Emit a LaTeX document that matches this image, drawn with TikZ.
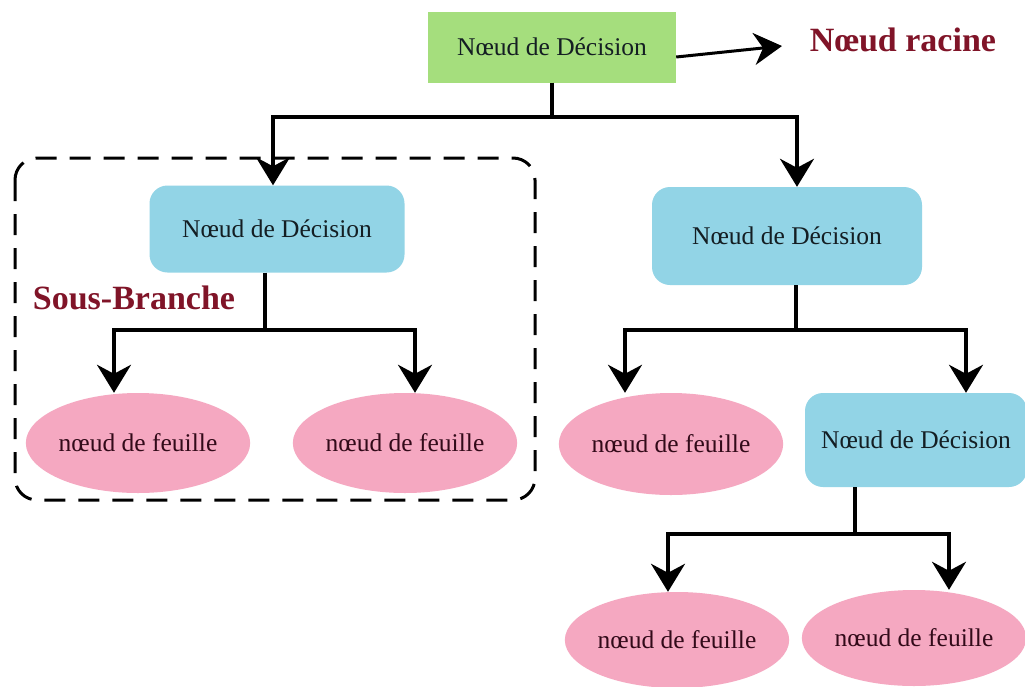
\documentclass[tikz,border=0pt]{standalone}
\usepackage{fontspec}
\setmainfont{Liberation Serif}
\usetikzlibrary{arrows.meta,shapes.geometric}
\definecolor{rootgreen}{RGB}{165,222,125}
\definecolor{decblue}{RGB}{146,212,230}
\definecolor{leafpink}{RGB}{245,168,193}
\definecolor{labelred}{RGB}{128,20,40}
\definecolor{dectext}{RGB}{20,30,35}
\definecolor{leaftext}{RGB}{50,10,25}
\begin{document}
\begin{tikzpicture}[x=1pt,y=-1pt,
  conn/.style={line width=3.5pt, black},
  arr/.style={conn, -{Stealth[length=28pt,width=34pt,inset=9pt]}},
  nodefont/.style={font=\fontsize{25.5}{30}\selectfont},
  rootbox/.style={rectangle, fill=rootgreen, inner sep=0pt, text=dectext, nodefont},
  decbox/.style={rectangle, rounded corners=18pt, fill=decblue, inner sep=0pt, text=dectext, nodefont},
  leaf/.style={ellipse, fill=leafpink, inner sep=0pt, text=leaftext, nodefont},
  lbl/.style={text=labelred, inner sep=0pt, font=\bfseries\fontsize{34}{40}\selectfont},
  frame/.style={line width=3pt, dash pattern=on 21pt off 13pt, rounded corners=22pt}
]
\useasboundingbox (0,0) rectangle (1025,686);
\fill[white] (0,0) rectangle (1025,686);

% frame of the sub-branch
\draw[frame] (15,158) rectangle (535,500);

% nodes
\node[rootbox, minimum width=248pt, minimum height=71pt] (root) at (552,47) {Nœud de Décision};
\node[lbl] (racine) at (903,40) {Nœud racine};
\node[lbl] (sous) at (134,298) {Sous-Branche};

\node[decbox, minimum width=255pt, minimum height=87pt] (dec1) at (277,229) {Nœud de Décision};
\node[decbox, minimum width=270pt, minimum height=98pt] (dec2) at (787,236) {Nœud de Décision};
\node[decbox, minimum width=222pt, minimum height=94pt] (dec3) at (916,440) {Nœud de Décision};

\node[leaf, minimum width=220pt, minimum height=100pt] (leaf1) at (138,443) {nœud de feuille};
\node[leaf, minimum width=214pt, minimum height=100pt] (leaf2) at (405,443) {nœud de feuille};
\node[leaf, minimum width=214pt, minimum height=102pt] (leaf3) at (671,444) {nœud de feuille};
\node[leaf, minimum width=212pt, minimum height=96pt] (leaf4) at (677,640) {nœud de feuille};
\node[leaf, minimum width=210pt, minimum height=96pt] (leaf5) at (914,638) {nœud de feuille};

% junction points
\coordinate (jr) at (552,117);
\coordinate (j1) at (265,330);
\coordinate (j2) at (796,330);
\coordinate (j3) at (855,534);
\coordinate (rt) at (782,46);

% connectors
\draw[conn, -{Stealth[length=28pt,width=32pt,inset=9pt]}, line width=3pt] ([yshift=-10pt]root.east) -- (rt);
\draw[conn] (root.south) -- (jr);
\draw[arr] (jr) -| ([xshift=-4pt]dec1.north);
\draw[arr] (jr) -| ([xshift=10pt]dec2.north);

\draw[conn] (dec1.south -| j1) -- (j1);
\draw[arr] (j1) -| ([xshift=-24pt]leaf1.north);
\draw[arr] (j1) -| ([xshift=10pt]leaf2.north);

\draw[conn] (dec2.south -| j2) -- (j2);
\draw[arr] (j2) -| ([xshift=-46pt]leaf3.north);
\draw[arr] (j2) -| ([xshift=50pt]dec3.north);

\draw[conn] (dec3.south -| j3) -- (j3);
\draw[arr] (j3) -| ([xshift=-9pt]leaf4.north);
\draw[arr] (j3) -| ([xshift=35pt]leaf5.north);
\end{tikzpicture}
\end{document}
